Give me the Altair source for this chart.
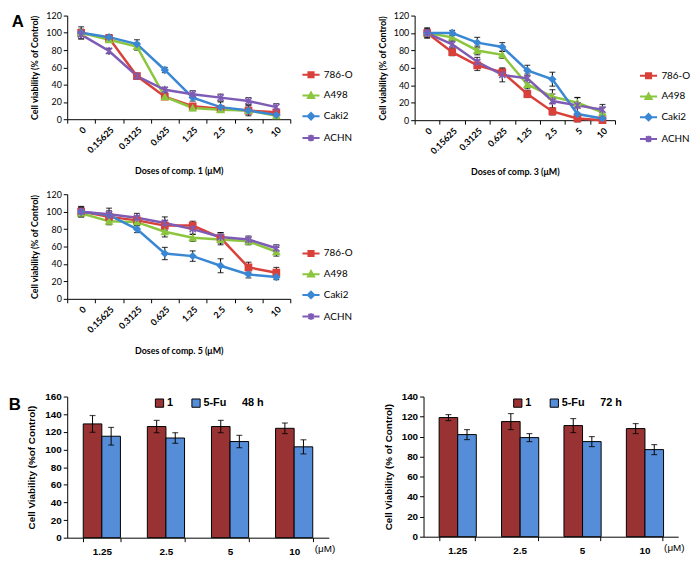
import altair as alt
import pandas as pd

# ---------------- data ----------------
doses = ["0", "0.15625", "0.3125", "0.625", "1.25", "2.5", "5", "10"]
series = ["786-O", "A498", "Caki2", "ACHN"]
line_colors = ["#D9403A", "#8CC63F", "#3A87D4", "#7E5BB5"]
shapes = ["square", "triangle-up", "diamond", "M-1,-1L1,1M-1,1L1,-1M0,-1.3L0,1.3"]
legend_shapes = [
    "M-1,0L1,0M-0.3,-0.3H0.3V0.3H-0.3Z",
    "M-1,0L1,0M0,-0.36L0.36,0.28L-0.36,0.28Z",
    "M-1,0L1,0M0,-0.38L0.38,0L0,0.38L-0.38,0Z",
    "M-1,0L1,0M-0.3,-0.3L0.3,0.3M-0.3,0.3L0.3,-0.3M0,-0.38L0,0.38",
]

# comp. 1
c1_786o = [100, 94, 50, 26, 15, 12, 10, 8]
c1_a498 = [100, 92, 84, 26, 13, 11, 10, 4]
c1_caki2 = [100, 95, 87, 57, 25, 14, 10, 5]
c1_achn = [98, 79, 50, 34, 29, 25, 21, 14]
c1_786o_err = [7, 3, 3, 3, 3, 3, 6, 3]
c1_a498_err = [4, 3, 4, 3, 3, 3, 3, 3]
c1_caki2_err = [4, 3, 5, 3, 4, 6, 4, 3]
c1_achn_err = [5, 3, 3, 3, 4, 4, 4, 4]

# comp. 3
c3_786o = [100, 78, 63, 55, 30, 10, 2, 0]
c3_a498 = [100, 95, 80, 75, 41, 27, 20, 9]
c3_caki2 = [100, 100, 89, 84, 57, 47, 7, 2]
c3_achn = [100, 87, 67, 52, 48, 22, 17, 12]
c3_786o_err = [6, 4, 6, 4, 4, 4, 2, 2]
c3_a498_err = [4, 4, 5, 4, 5, 8, 6, 6]
c3_caki2_err = [4, 3, 6, 5, 6, 8, 9, 4]
c3_achn_err = [5, 4, 5, 8, 5, 8, 9, 6]

# comp. 5
c5_786o = [100, 94, 90, 84, 84, 70, 36, 30]
c5_a498 = [98, 89, 88, 77, 70, 68, 66, 54]
c5_caki2 = [100, 96, 80, 52, 49, 38, 28, 25]
c5_achn = [100, 97, 93, 87, 80, 71, 68, 58]
c5_786o_err = [6, 5, 5, 6, 5, 6, 6, 6]
c5_a498_err = [4, 4, 4, 6, 4, 6, 4, 5]
c5_caki2_err = [5, 5, 4, 7, 6, 8, 4, 3]
c5_achn_err = [5, 7, 5, 7, 6, 5, 4, 4]

# panel B
concs = ["1.25", "2.5", "5", "10"]
groups = ["1", "5-Fu"]
bar_colors = ["#993333", "#568DD8"]
b48_comp1 = [129, 126, 126, 124]
b48_comp1_err = [9.5, 7, 7, 6]
b48_5fu = [115, 113, 109, 103]
b48_5fu_err = [10, 6, 7, 8]
b72_comp1 = [119, 115, 111, 108]
b72_comp1_err = [3, 8, 7, 5]
b72_5fu = [102, 99, 95, 87]
b72_5fu_err = [5, 4, 5, 5]

FONT_A = "Lato"
FONT_B = "Liberation Sans"


def letter(txt, x, y):
    return alt.Chart(pd.DataFrame({"t": [txt]})).mark_text(
        font=FONT_B, fontSize=17, fontWeight="bold", color="black", align="center", baseline="middle"
    ).encode(text="t:N", x=alt.value(x), y=alt.value(y))


def line_panel(vals, errs, width, height, xtitle, lx, ly, tag=None):
    rows = []
    for s, v, e in zip(series, vals, errs):
        for d, y, er in zip(doses, v, e):
            rows.append({"dose": d, "series": s, "value": y, "lo": y - er, "hi": y + er})
    df = pd.DataFrame(rows)
    x = alt.X("dose:N", sort=doses,
              scale=alt.Scale(paddingInner=0, paddingOuter=0),
              axis=alt.Axis(title=xtitle, labelAngle=-45, tickBand="extent", labelFont=FONT_A,
                            labelFontWeight="bold", labelFontSize=9, titleFont=FONT_A, titleFontSize=9,
                            titleFontWeight="bold", titlePadding=12, tickSize=4, labelPadding=2))

    def y(field):
        return alt.Y(field, scale=alt.Scale(domain=[0, 120]),
                     axis=alt.Axis(title="Cell viability (% of Control)", values=[0, 20, 40, 60, 80, 100, 120],
                                   labelFont=FONT_A, labelFontSize=9, titleFont=FONT_A, titleFontSize=9,
                                   titleFontWeight="bold", tickSize=4, titlePadding=6))

    leg = alt.Legend(title=None, orient="none", legendX=lx, legendY=ly, labelFont=FONT_A, labelFontSize=10,
                     symbolSize=300, rowPadding=4, symbolStrokeWidth=2, labelOffset=3)
    cscale = alt.Scale(domain=series, range=line_colors)
    base = alt.Chart(df)
    err = base.mark_rule(color="black", strokeWidth=1).encode(x=x, y=y("lo:Q"), y2="hi:Q")
    cap_lo = base.mark_tick(color="black", size=6, thickness=1.2).encode(x=x, y=y("lo:Q"))
    cap_hi = base.mark_tick(color="black", size=6, thickness=1.2).encode(x=x, y=y("hi:Q"))
    line = base.mark_line(strokeWidth=2.5).encode(
        x=x, y=y("value:Q"), color=alt.Color("series:N", scale=cscale, legend=None))
    pts = base.mark_point(filled=True, size=40, opacity=1, strokeWidth=1.5).encode(
        x=x, y=y("value:Q"),
        color=alt.Color("series:N", scale=cscale, legend=None),
        stroke=alt.Stroke("series:N", scale=cscale, legend=None),
        shape=alt.Shape("series:N", scale=alt.Scale(domain=series, range=shapes), legend=None))
    # legend-only layer: no rows drawn, legend symbols show line + marker
    leg_layer = base.transform_filter("false").mark_point(filled=True, opacity=1, strokeWidth=2).encode(
        x=x, y=y("value:Q"),
        color=alt.Color("series:N", scale=cscale, legend=leg),
        stroke=alt.Stroke("series:N", scale=cscale, legend=leg),
        shape=alt.Shape("series:N", scale=alt.Scale(domain=series, range=legend_shapes), legend=leg))
    layers = [err, cap_lo, cap_hi, line, pts, leg_layer]
    if tag:
        layers.append(tag)
    return alt.layer(*layers).resolve_scale(
        shape="independent", color="independent", stroke="independent"
    ).properties(width=width, height=height)


def bar_panel(v1, e1, v2, e2, width, height, ymax, ytitle, htitle, lx, tag=None):
    rows = []
    for g, v, e in ((groups[0], v1, e1), (groups[1], v2, e2)):
        for c, y, er in zip(concs, v, e):
            rows.append({"conc": c, "group": g, "value": y, "lo": y - er, "hi": y + er})
    df = pd.DataFrame(rows)
    x = alt.X("conc:N", sort=concs, scale=alt.Scale(paddingInner=0.42, paddingOuter=0.25),
              axis=alt.Axis(title="(\u03bcM)", labelAngle=0, tickBand="extent", labelFont=FONT_B,
                            labelFontWeight="bold", labelFontSize=10, tickSize=4, labelPadding=5,
                            titleFont=FONT_B, titleFontSize=10, titleFontWeight="normal",
                            titleAlign="right", titleX=width + 6, titleY=11, titleBaseline="middle"))
    xo = alt.XOffset("group:N", sort=groups, scale=alt.Scale(paddingInner=0, paddingOuter=0))

    def y(field):
        return alt.Y(field, scale=alt.Scale(domain=[0, ymax]),
                     axis=alt.Axis(title=ytitle, values=list(range(0, ymax + 1, 20)), labelFont=FONT_B,
                                   labelFontWeight="bold", labelFontSize=10, titleFont=FONT_B, titleFontSize=10,
                                   titleFontWeight="bold", tickSize=4, titlePadding=8))

    leg = alt.Legend(title=htitle, orient="none", direction="horizontal", legendX=lx, legendY=1,
                     titleOrient="right", titleFont=FONT_B, titleFontSize=11, titleFontWeight="bold",
                     titlePadding=16, labelFont=FONT_B, labelFontSize=11, labelFontWeight="bold",
                     symbolType="square", symbolSize=70, symbolStrokeColor="black", symbolStrokeWidth=1,
                     columnPadding=16, labelOffset=2)
    color = alt.Color("group:N", scale=alt.Scale(domain=groups, range=bar_colors), legend=leg)
    base = alt.Chart(df)
    bars = base.mark_bar(stroke="black", strokeWidth=1).encode(x=x, xOffset=xo, y=y("value:Q"), color=color)
    err = base.mark_rule(color="black", strokeWidth=1).encode(x=x, xOffset=xo, y=y("lo:Q"), y2="hi:Q")
    cap_lo = base.mark_tick(color="black", size=6, thickness=1.2).encode(x=x, xOffset=xo, y=y("lo:Q"))
    cap_hi = base.mark_tick(color="black", size=6, thickness=1.2).encode(x=x, xOffset=xo, y=y("hi:Q"))
    layers = [bars, err, cap_lo, cap_hi]
    if tag:
        layers.append(tag)
    return alt.layer(*layers).properties(width=width, height=height)


def indep(c):
    return c.resolve_scale(color="independent", stroke="independent", shape="independent").resolve_legend(
        color="independent", stroke="independent", shape="independent")


p1 = line_panel([c1_786o, c1_a498, c1_caki2, c1_achn],
                [c1_786o_err, c1_a498_err, c1_caki2_err, c1_achn_err],
                226, 105, "Doses of comp. 1 (\u03bcM)", 237, 50, tag=letter("A", -50, 7))
p2 = line_panel([c3_786o, c3_a498, c3_caki2, c3_achn],
                [c3_786o_err, c3_a498_err, c3_caki2_err, c3_achn_err],
                203, 106, "Doses of comp. 3 (\u03bcM)", 227, 51)
p3 = line_panel([c5_786o, c5_a498, c5_caki2, c5_achn],
                [c5_786o_err, c5_a498_err, c5_caki2_err, c5_achn_err],
                226, 106, "Doses of  comp. 5 (\u03bcM)", 237, 50)
b1 = bar_panel(b48_comp1, b48_comp1_err, b48_5fu, b48_5fu_err, 265, 143, 160,
               "Cell Viability (%of Control)", "48 h", 88, tag=letter("B", -53, 9))
b2 = bar_panel(b72_comp1, b72_comp1_err, b72_5fu, b72_5fu_err, 258, 142, 140,
               "Cell Viability (% of Control)", "72 h", 90)

row1 = indep(alt.hconcat(p1, p2, spacing=25))
row3 = indep(alt.hconcat(b1, b2, spacing=49))
top = indep(alt.vconcat(row1, p3, spacing=13))
chart = indep(alt.vconcat(top, row3, spacing=36)).properties(
    padding={"left": 0, "top": 0, "right": 0, "bottom": 5}
).configure_view(stroke=None).configure_axis(
    grid=False, domainColor="black", tickColor="black", labelColor="black", titleColor="black"
).configure_legend(labelColor="black", titleColor="black")

chart.save("out.html", embed_options={"renderer": "svg", "actions": False})
